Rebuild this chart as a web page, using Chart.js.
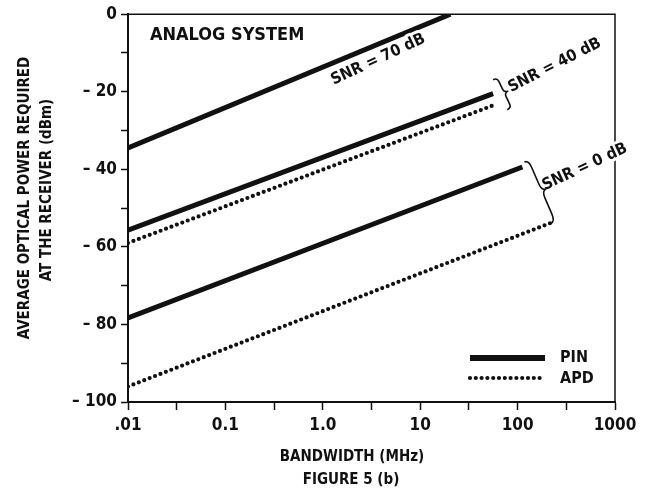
<!DOCTYPE html>
<html>
<head>
<meta charset="utf-8">
<script src="https://cdn.jsdelivr.net/npm/chart.js@4.4.0/dist/chart.umd.min.js"></script>
<style>
  html, body { margin: 0; padding: 0; background: #fff; }
  #wrap { width: 649px; height: 493px; }
</style>
</head>
<body>
<div id="wrap"><canvas id="chart" width="649" height="493"></canvas></div>
<script>
// osa x: sirka pasma (MHz), log; osa y: vykon (dBm)
const bandwidthTicks = [0.01, 0.0316, 0.1, 0.316, 1, 3.16, 10, 31.6, 100, 316, 1000];
const bandwidthLabels = ['.01', '', '0.1', '', '1.0', '', '10', '', '100', '', '1000'];
const powerTicks = [0, -10, -20, -30, -40, -50, -60, -70, -80, -90, -100];
const powerLabels = ['0', '', '– 20', '', '– 40', '', '– 60', '', '– 80', '', '– 100'];

// koncove body car
const pin70Bandwidth = [0.01, 20.4];
const pin70Power = [-34.5, 0];
const pin40Bandwidth = [0.01, 56];
const pin40Power = [-55.7, -20.5];
const apd40Bandwidth = [0.01, 55];
const apd40Power = [-59, -23.6];
const pin0Bandwidth = [0.01, 112];
const pin0Power = [-78.3, -39.4];
const apd0Bandwidth = [0.01, 215];
const apd0Power = [-96, -53.9];

const ink = '#111';
const fontFamily = "'Liberation Sans Narrow', 'DejaVu Sans Condensed', 'Roboto', sans-serif";

const toPoints = (xs, ys) => xs.map((x, i) => ({ x: x, y: ys[i] }));

const solid = (label, xs, ys) => ({
  label: label,
  data: toPoints(xs, ys),
  borderColor: ink,
  borderWidth: 5,
  borderCapStyle: 'butt',
  pointRadius: 0,
  tension: 0,
});

const dotted = (label, xs, ys) => ({
  label: label,
  data: toPoints(xs, ys),
  borderColor: ink,
  borderWidth: 4.2,
  borderDash: [0, 5.8],
  borderCapStyle: 'round',
  pointRadius: 0,
  tension: 0,
});

// popisky v grafu (pozice v datovych souradnicich)
const snrLabels = [
  { text: 'SNR = 70 dB', x: 3.7, y: -11.7, angle: -25 },
  { text: 'SNR = 40 dB', x: 240, y: -13.2, angle: -27 },
  { text: 'SNR = 0 dB', x: 490, y: -39.4, angle: -25 },
];

const braces = [
  { top: [pin40Bandwidth[1], pin40Power[1]], bottom: [apd40Bandwidth[1], apd40Power[1]], dTop: [0, -14], dBottom: [15, 4], depth: 9 },
  { top: [pin0Bandwidth[1], pin0Power[1]], bottom: [apd0Bandwidth[1], apd0Power[1]], dTop: [2, -5], dBottom: [1, 0], depth: 9 },
];

function drawBrace(ctx, x1, y1, x2, y2, depth) {
  const L = Math.hypot(x2 - x1, y2 - y1);
  const h = depth / 2;
  const s = -1;
  ctx.save();
  ctx.translate(x1, y1);
  ctx.rotate(Math.atan2(y2 - y1, x2 - x1));
  ctx.beginPath();
  ctx.moveTo(0, 0);
  ctx.quadraticCurveTo(0, s * h, 0.12 * L, s * h);
  ctx.lineTo(0.38 * L, s * h);
  ctx.quadraticCurveTo(0.5 * L, s * h, 0.5 * L, s * 2 * h);
  ctx.quadraticCurveTo(0.5 * L, s * h, 0.62 * L, s * h);
  ctx.lineTo(0.88 * L, s * h);
  ctx.quadraticCurveTo(L, s * h, L, 0);
  ctx.lineWidth = 1.6;
  ctx.strokeStyle = ink;
  ctx.stroke();
  ctx.restore();
}

const annotationPlugin = {
  id: 'annotations',
  afterDraw(chart) {
    const { ctx, chartArea: a, scales } = chart;
    const sx = scales.x, sy = scales.y;
    ctx.save();

    // horni a prava hrana ramu
    ctx.strokeStyle = ink;
    ctx.lineWidth = 1.5;
    ctx.beginPath();
    ctx.moveTo(a.left, a.top);
    ctx.lineTo(a.right, a.top);
    ctx.lineTo(a.right, a.bottom);
    ctx.stroke();

    ctx.fillStyle = ink;
    ctx.textBaseline = 'middle';

    // nadpis v grafu
    ctx.font = 'bold 18px ' + fontFamily;
    ctx.textAlign = 'left';
    ctx.fillText('ANALOG SYSTEM', a.left + 22, a.top + 21);

    // SNR popisky (bily obrys prerusi ram jako v predloze)
    ctx.font = 'bold 16px ' + fontFamily;
    ctx.textAlign = 'center';
    snrLabels.forEach((l) => {
      ctx.save();
      ctx.translate(sx.getPixelForValue(l.x), sy.getPixelForValue(l.y));
      ctx.rotate(l.angle * Math.PI / 180);
      ctx.strokeStyle = '#fff';
      ctx.lineWidth = 6;
      ctx.lineJoin = 'round';
      ctx.strokeText(l.text, 0, 0);
      ctx.fillText(l.text, 0, 0);
      ctx.restore();
    });

    // zavorky
    braces.forEach((b) => {
      drawBrace(ctx,
        sx.getPixelForValue(b.top[0]) + b.dTop[0], sy.getPixelForValue(b.top[1]) + b.dTop[1],
        sx.getPixelForValue(b.bottom[0]) + b.dBottom[0], sy.getPixelForValue(b.bottom[1]) + b.dBottom[1],
        b.depth);
    });

    // legenda
    const pinDs = chart.data.datasets[1];
    const apdDs = chart.data.datasets[2];
    const lx1 = a.right - 145, lx2 = a.right - 70;
    ctx.strokeStyle = ink;
    ctx.lineWidth = pinDs.borderWidth + 1;
    ctx.lineCap = 'butt';
    ctx.beginPath();
    ctx.moveTo(lx1, a.bottom - 44);
    ctx.lineTo(lx2, a.bottom - 44);
    ctx.stroke();
    ctx.lineWidth = apdDs.borderWidth;
    ctx.lineCap = 'round';
    ctx.setLineDash(apdDs.borderDash);
    ctx.beginPath();
    ctx.moveTo(lx1, a.bottom - 24);
    ctx.lineTo(lx2, a.bottom - 24);
    ctx.stroke();
    ctx.setLineDash([]);
    ctx.font = 'bold 16px ' + fontFamily;
    ctx.textAlign = 'left';
    ctx.fillText('PIN', a.right - 55, a.bottom - 44);
    ctx.fillText('APD', a.right - 55, a.bottom - 23);

    // nazvy os
    ctx.textAlign = 'center';
    ctx.font = 'bold 15px ' + fontFamily;
    ctx.fillText('BANDWIDTH (MHz)', 352, 457);
    ctx.fillText('FIGURE 5 (b)', 351, 480);
    ctx.save();
    ctx.translate(25, 198);
    ctx.rotate(-Math.PI / 2);
    ctx.fillText('AVERAGE OPTICAL POWER REQUIRED', 0, 0);
    ctx.restore();
    ctx.save();
    ctx.translate(47, 190);
    ctx.rotate(-Math.PI / 2);
    ctx.fillText('AT THE RECEIVER (dBm)', 0, 0);
    ctx.restore();

    ctx.restore();
  },
};

new Chart(document.getElementById('chart'), {
  type: 'line',
  data: {
    datasets: [
      solid('PIN, SNR = 70 dB', pin70Bandwidth, pin70Power),
      solid('PIN, SNR = 40 dB', pin40Bandwidth, pin40Power),
      dotted('APD, SNR = 40 dB', apd40Bandwidth, apd40Power),
      solid('PIN, SNR = 0 dB', pin0Bandwidth, pin0Power),
      dotted('APD, SNR = 0 dB', apd0Bandwidth, apd0Power),
    ],
  },
  options: {
    responsive: false,
    animation: false,
    devicePixelRatio: 1,
    layout: { padding: { left: 0, top: 10, right: 34, bottom: 0 } },
    plugins: {
      legend: { display: false },
      tooltip: { enabled: false },
    },
    scales: {
      x: {
        type: 'logarithmic',
        min: 0.01,
        max: 1000,
        afterBuildTicks: (scale) => {
          scale.ticks = bandwidthTicks.map((v) => ({ value: v }));
        },
        afterFit: (scale) => { scale.height = 91; },
        ticks: {
          autoSkip: false,
          maxRotation: 0,
          padding: 5,
          color: ink,
          font: { family: fontFamily, size: 17, weight: 'bold' },
          callback: (value, index) => bandwidthLabels[index],
        },
        grid: { drawOnChartArea: false, tickLength: 8, tickColor: ink, tickWidth: 1.5 },
        border: { color: ink, width: 2 },
      },
      y: {
        type: 'linear',
        min: -100,
        max: 0,
        afterBuildTicks: (scale) => {
          scale.ticks = powerTicks.map((v) => ({ value: v }));
        },
        afterFit: (scale) => { scale.width = 128; },
        ticks: {
          autoSkip: false,
          padding: 4,
          color: ink,
          font: { family: fontFamily, size: 17, weight: 'bold' },
          callback: (value) => powerLabels[powerTicks.indexOf(value)],
        },
        grid: { drawOnChartArea: false, tickLength: 7, tickColor: ink, tickWidth: 1.5 },
        border: { color: ink, width: 2 },
      },
    },
  },
  plugins: [annotationPlugin],
});
</script>
</body>
</html>
